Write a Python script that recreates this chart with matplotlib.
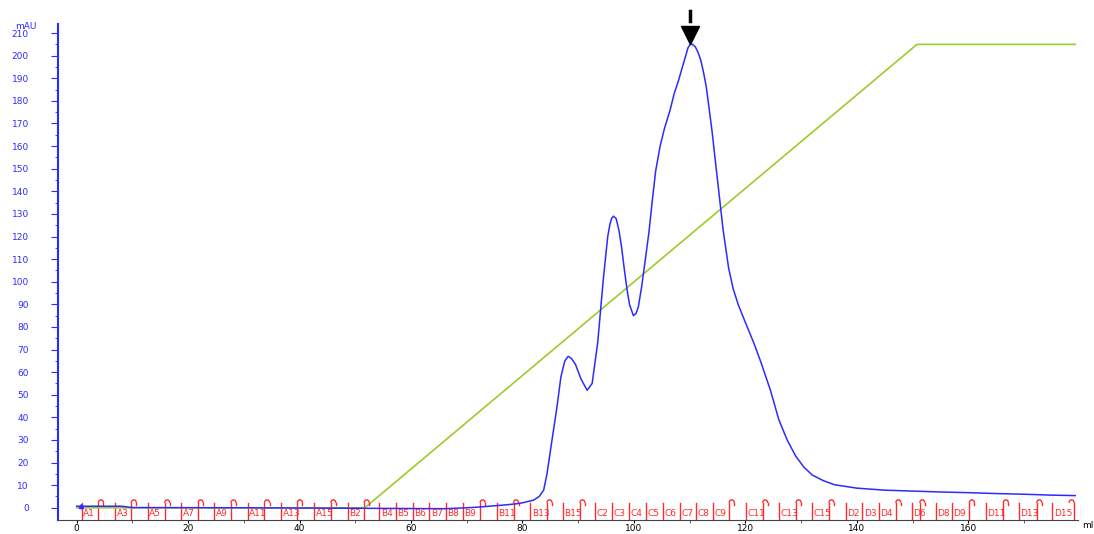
import numpy as np
import matplotlib
matplotlib.use("Agg")
import matplotlib.pyplot as plt
from matplotlib.patches import Arc

# UV 280 nm trace (ml, mAU)
uv_ml = [0, 8, 10, 30, 50, 66, 70, 72, 75, 77, 79, 80, 82, 83, 83.8, 84.4, 85.3, 86.1, 86.9,
         87.6, 88.2, 88.8, 89.5, 90.5, 91.6, 92.5, 93.5, 94.5, 95.3, 95.7, 96.0, 96.3, 96.8, 97.3,
         97.8, 98.3, 98.8, 99.2, 99.9, 100.4, 100.8, 101.4, 102, 102.7, 103.3, 103.9, 104.7, 105.5,
         106.5, 107.2, 108, 108.7, 109.3, 109.7, 110.1, 110.5, 111, 111.5, 112, 112.5, 113,
         114, 115, 116, 117, 117.8, 118.7, 120, 121.5, 122.7, 124.5, 126, 127.5, 129, 130.5, 132,
         134, 136, 140, 145, 150, 155, 160, 165, 170, 175, 179.2]
uv_mau = [0.7, 0.7, 0.1, 0.0, -0.2, -0.4, 0.0, 0.3, 0.9, 1.3, 1.8, 2.2, 3.4, 5.0, 7.8, 15, 30, 43, 58,
          65, 67, 66, 63.5, 57, 52, 55, 73, 101, 120, 125.5, 128, 129, 128, 123,
          115, 105, 96, 90, 85, 86, 89, 98, 109, 122, 136, 149, 160, 168,
          176, 183, 189, 195, 200, 203.5, 205, 205, 204, 201.5, 198, 192.5, 186,
          167, 145, 123, 106, 97, 90, 82, 73, 65, 52, 39, 30, 23, 18, 14.5,
          12, 10.2, 8.7, 7.8, 7.4, 7.0, 6.7, 6.3, 6.0, 5.6, 5.4]

# concentration gradient, drawn on the same scale
grad_ml = [0, 51.7, 150.8, 179.2]
grad_val = [0, 0, 205, 205]

# fraction collector marks
frac_names = ["A%d" % i for i in range(1, 16)] + ["B%d" % i for i in range(1, 16)] + \
             ["C%d" % i for i in range(1, 16)] + ["D%d" % i for i in range(1, 16)]
frac_start = [0.9, 3.9, 6.9, 9.8, 12.8, 15.8, 18.8, 21.8, 24.7, 27.7, 30.7, 33.7, 36.7, 39.6, 42.6,
              45.6, 48.6, 51.6, 54.3, 57.3, 60.3, 63.3, 66.3, 69.3, 72.4, 75.4, 78.4, 81.4, 84.4, 87.3,
              90.3, 93.1, 96.1, 99.1, 102.2, 105.2, 108.2, 111.2, 114.2, 117.1, 120.1, 123.1, 126.1, 129.1, 132.0,
              135.0, 138.0, 141.0, 144.0, 147.0, 149.9, 151.3, 154.2, 157.1, 160.2, 163.2, 166.3, 169.1, 172.3, 175.1]
frac_end = 179.0
frac_labelled = ["A1", "A3", "A5", "A7", "A9", "A11", "A13", "A15",
                 "B2", "B4", "B5", "B6", "B7", "B8", "B9", "B11", "B13", "B15",
                 "C2", "C3", "C4", "C5", "C6", "C7", "C8", "C9", "C11", "C13", "C15",
                 "D2", "D3", "D4", "D6", "D8", "D9", "D11", "D13", "D15"]

peak_ml = 110.1

blue = "#2b2bff"
red = "#ff2a2a"
green = "#9ccc2c"

fig = plt.figure(figsize=(10.94, 5.34), dpi=100)
ax = fig.add_axes([0.053, 0.0262, 0.9324, 0.9288])
ax.set_xlim(-3.36, 179.7)
ax.set_ylim(-5.4, 214)

ax.plot(grad_ml, grad_val, color=green, lw=1.2, zorder=2)
ax.plot(uv_ml, uv_mau, color=blue, lw=1.1, zorder=3)
ax.plot(0.8, 0.9, marker="^", ms=3, color=blue, zorder=4)

# fraction boundaries, labels and the little arcs on unlabelled ones
ymin = ax.get_ylim()[0]
for name, x in zip(frac_names, frac_start):
    ax.plot([x, x], [ymin, 2.2], color=red, lw=1.0, zorder=1)
    if name in frac_labelled:
        ax.text(x + 0.25, -2.6, name, color=red, fontsize=6.5, ha="left", va="center")
    else:
        ax.add_patch(Arc((x + 0.45, 2.2), 0.9, 2.6, theta1=0, theta2=180, color=red, lw=1.0))
        ax.plot([x + 0.9, x + 0.9], [2.2, 1.2], color=red, lw=1.0)
ax.plot([frac_end, frac_end], [ymin, 2.2], color=red, lw=1.0)
ax.add_patch(Arc((frac_end - 0.45, 2.2), 0.9, 2.6, theta1=0, theta2=180, color=red, lw=1.0))

# pooled peak marker
ax.plot(peak_ml, 209.3, marker="v", ms=13, color="black", clip_on=False, zorder=5)
ax.plot([peak_ml, peak_ml], [215.4, 219.9], color="black", lw=2.5, clip_on=False, zorder=5)

ax.spines["top"].set_visible(False)
ax.spines["right"].set_visible(False)
ax.spines["left"].set_color(blue)
ax.spines["left"].set_linewidth(1.5)
ax.spines["bottom"].set_color("#444444")

ax.set_yticks(np.arange(0, 211, 10))
ax.set_yticks(np.arange(5, 211, 10), minor=True)
ax.set_xticks(np.arange(0, 161, 20))
ax.set_xticks(np.arange(10, 171, 20), minor=True)
ax.tick_params(axis="y", which="major", length=5, colors=blue, labelsize=6.5, pad=16)
ax.tick_params(axis="y", which="minor", length=2, colors=blue)
ax.tick_params(axis="x", which="major", length=2, colors="black", labelsize=6.5, pad=1)
ax.tick_params(axis="x", which="minor", length=2, colors="#444444")

fig.text(0.014, 0.951, "mAU", color=blue, fontsize=6.5, ha="left", va="center")
fig.text(0.989, 0.016, "ml", color="black", fontsize=6.5, ha="left", va="center")

fig.savefig("out.png", dpi=100)
